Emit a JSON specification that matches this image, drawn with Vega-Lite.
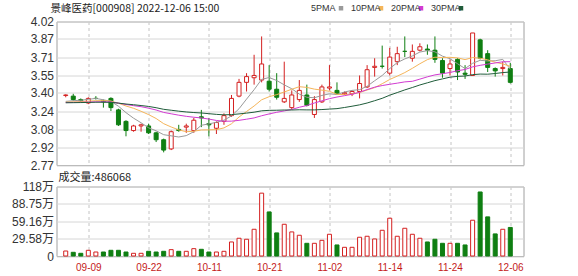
{
  "$schema": "https://vega.github.io/schema/vega-lite/v6.json",
  "autosize": {"type": "none"},
  "padding": {"left": 56.5, "top": 21.5, "right": 521.5, "bottom": 254.5},
  "background": "white",
  "bounds": "flush",
  "spacing": 21,
  "config": {
    "view": {"stroke": "#a0a0a0", "strokeWidth": 1},
    "font": "Liberation Sans"
  },
  "datasets": {
    "k": [
      {"i":0,"d":"09-06","open":3.375,"high":3.385,"low":3.36,"close":3.38,"vol":8.5,"5PMA":3.324,"10PMA":3.317,"20PMA":3.314,"30PMA":3.312},
      {"i":1,"d":"09-07","open":3.37,"high":3.39,"low":3.33,"close":3.34,"vol":6.3,"5PMA":3.330,"10PMA":3.320,"20PMA":3.315,"30PMA":3.313},
      {"i":2,"d":"09-08","open":3.34,"high":3.35,"low":3.32,"close":3.33,"vol":4.6,"5PMA":3.334,"10PMA":3.322,"20PMA":3.316,"30PMA":3.314},
      {"i":3,"d":"09-09","open":3.31,"high":3.36,"low":3.30,"close":3.35,"vol":9.7,"5PMA":3.342,"10PMA":3.326,"20PMA":3.318,"30PMA":3.315},
      {"i":4,"d":"09-13","open":3.35,"high":3.37,"low":3.34,"close":3.35,"vol":6.8,"5PMA":3.350,"10PMA":3.330,"20PMA":3.320,"30PMA":3.317},
      {"i":5,"d":"09-14","open":3.33,"high":3.34,"low":3.27,"close":3.32,"vol":6.8,"5PMA":3.338,"10PMA":3.331,"20PMA":3.321,"30PMA":3.317},
      {"i":6,"d":"09-15","open":3.35,"high":3.36,"low":3.24,"close":3.27,"vol":9.7,"5PMA":3.324,"10PMA":3.327,"20PMA":3.319,"30PMA":3.316},
      {"i":7,"d":"09-16","open":3.25,"high":3.26,"low":3.11,"close":3.12,"vol":9.7,"5PMA":3.282,"10PMA":3.308,"20PMA":3.309,"30PMA":3.309},
      {"i":8,"d":"09-19","open":3.15,"high":3.16,"low":3.02,"close":3.07,"vol":6.8,"5PMA":3.226,"10PMA":3.284,"20PMA":3.297,"30PMA":3.301},
      {"i":9,"d":"09-20","open":3.07,"high":3.12,"low":3.06,"close":3.11,"vol":4.6,"5PMA":3.178,"10PMA":3.264,"20PMA":3.287,"30PMA":3.295},
      {"i":10,"d":"09-21","open":3.11,"high":3.13,"low":3.06,"close":3.12,"vol":4.6,"5PMA":3.138,"10PMA":3.238,"20PMA":3.278,"30PMA":3.288},
      {"i":11,"d":"09-22","open":3.11,"high":3.13,"low":3.04,"close":3.05,"vol":8.0,"5PMA":3.094,"10PMA":3.209,"20PMA":3.265,"30PMA":3.280},
      {"i":12,"d":"09-23","open":3.05,"high":3.06,"low":2.97,"close":2.99,"vol":6.8,"5PMA":3.068,"10PMA":3.175,"20PMA":3.249,"30PMA":3.269},
      {"i":13,"d":"09-26","open":2.99,"high":3.00,"low":2.88,"close":2.90,"vol":8.0,"5PMA":3.034,"10PMA":3.130,"20PMA":3.228,"30PMA":3.255},
      {"i":14,"d":"09-27","open":2.91,"high":3.07,"low":2.90,"close":3.06,"vol":10.8,"5PMA":3.024,"10PMA":3.101,"20PMA":3.216,"30PMA":3.247},
      {"i":15,"d":"09-28","open":3.08,"high":3.12,"low":3.06,"close":3.07,"vol":8.0,"5PMA":3.014,"10PMA":3.076,"20PMA":3.204,"30PMA":3.239},
      {"i":16,"d":"09-29","open":3.10,"high":3.13,"low":3.05,"close":3.11,"vol":8.0,"5PMA":3.026,"10PMA":3.060,"20PMA":3.194,"30PMA":3.232},
      {"i":17,"d":"09-30","open":3.07,"high":3.18,"low":3.05,"close":3.16,"vol":12.5,"5PMA":3.060,"10PMA":3.064,"20PMA":3.186,"30PMA":3.227},
      {"i":18,"d":"10-10","open":3.19,"high":3.25,"low":3.10,"close":3.18,"vol":11.4,"5PMA":3.116,"10PMA":3.075,"20PMA":3.180,"30PMA":3.223},
      {"i":19,"d":"10-11","open":3.13,"high":3.18,"low":3.02,"close":3.12,"vol":6.8,"5PMA":3.128,"10PMA":3.076,"20PMA":3.170,"30PMA":3.217},
      {"i":20,"d":"10-12","open":3.09,"high":3.15,"low":3.04,"close":3.14,"vol":6.8,"5PMA":3.142,"10PMA":3.078,"20PMA":3.158,"30PMA":3.211},
      {"i":21,"d":"10-13","open":3.15,"high":3.22,"low":3.12,"close":3.20,"vol":8.0,"5PMA":3.160,"10PMA":3.093,"20PMA":3.151,"30PMA":3.207},
      {"i":22,"d":"10-14","open":3.20,"high":3.38,"low":3.19,"close":3.35,"vol":23.9,"5PMA":3.198,"10PMA":3.129,"20PMA":3.152,"30PMA":3.209},
      {"i":23,"d":"10-17","open":3.37,"high":3.52,"low":3.36,"close":3.49,"vol":30.2,"5PMA":3.260,"10PMA":3.188,"20PMA":3.159,"30PMA":3.215},
      {"i":24,"d":"10-18","open":3.49,"high":3.57,"low":3.41,"close":3.54,"vol":28.5,"5PMA":3.344,"10PMA":3.236,"20PMA":3.169,"30PMA":3.222},
      {"i":25,"d":"10-19","open":3.53,"high":3.73,"low":3.47,"close":3.55,"vol":45.5,"5PMA":3.426,"10PMA":3.284,"20PMA":3.180,"30PMA":3.230},
      {"i":26,"d":"10-20","open":3.51,"high":3.89,"low":3.49,"close":3.65,"vol":107,"5PMA":3.516,"10PMA":3.338,"20PMA":3.199,"30PMA":3.242},
      {"i":27,"d":"10-21","open":3.50,"high":3.64,"low":3.41,"close":3.43,"vol":75,"5PMA":3.532,"10PMA":3.365,"20PMA":3.215,"30PMA":3.246},
      {"i":28,"d":"10-24","open":3.43,"high":3.57,"low":3.34,"close":3.36,"vol":39.3,"5PMA":3.506,"10PMA":3.383,"20PMA":3.229,"30PMA":3.247},
      {"i":29,"d":"10-25","open":3.32,"high":3.67,"low":3.31,"close":3.35,"vol":54,"5PMA":3.468,"10PMA":3.406,"20PMA":3.241,"30PMA":3.249},
      {"i":30,"d":"10-26","open":3.27,"high":3.42,"low":3.25,"close":3.38,"vol":41,"5PMA":3.434,"10PMA":3.430,"20PMA":3.254,"30PMA":3.249},
      {"i":31,"d":"10-27","open":3.34,"high":3.51,"low":3.32,"close":3.42,"vol":35.3,"5PMA":3.388,"10PMA":3.452,"20PMA":3.273,"30PMA":3.251},
      {"i":32,"d":"10-28","open":3.38,"high":3.47,"low":3.28,"close":3.29,"vol":21.6,"5PMA":3.360,"10PMA":3.446,"20PMA":3.288,"30PMA":3.250},
      {"i":33,"d":"10-31","open":3.21,"high":3.37,"low":3.18,"close":3.34,"vol":21.6,"5PMA":3.356,"10PMA":3.431,"20PMA":3.310,"30PMA":3.250},
      {"i":34,"d":"11-01","open":3.32,"high":3.47,"low":3.31,"close":3.45,"vol":26.7,"5PMA":3.376,"10PMA":3.422,"20PMA":3.329,"30PMA":3.253},
      {"i":35,"d":"11-02","open":3.44,"high":3.64,"low":3.42,"close":3.45,"vol":37,"5PMA":3.390,"10PMA":3.412,"20PMA":3.348,"30PMA":3.257},
      {"i":36,"d":"11-03","open":3.42,"high":3.49,"low":3.38,"close":3.39,"vol":18.8,"5PMA":3.384,"10PMA":3.386,"20PMA":3.362,"30PMA":3.261},
      {"i":37,"d":"11-04","open":3.39,"high":3.41,"low":3.38,"close":3.40,"vol":14.8,"5PMA":3.406,"10PMA":3.383,"20PMA":3.374,"30PMA":3.271},
      {"i":38,"d":"11-07","open":3.39,"high":3.42,"low":3.37,"close":3.41,"vol":14.8,"5PMA":3.420,"10PMA":3.388,"20PMA":3.386,"30PMA":3.282},
      {"i":39,"d":"11-08","open":3.41,"high":3.55,"low":3.35,"close":3.48,"vol":31.9,"5PMA":3.426,"10PMA":3.401,"20PMA":3.404,"30PMA":3.294},
      {"i":40,"d":"11-09","open":3.45,"high":3.64,"low":3.44,"close":3.60,"vol":33.6,"5PMA":3.456,"10PMA":3.423,"20PMA":3.427,"30PMA":3.310},
      {"i":41,"d":"11-10","open":3.62,"high":3.70,"low":3.54,"close":3.63,"vol":29,"5PMA":3.504,"10PMA":3.444,"20PMA":3.448,"30PMA":3.330},
      {"i":42,"d":"11-11","open":3.63,"high":3.81,"low":3.61,"close":3.63,"vol":43.8,"5PMA":3.550,"10PMA":3.478,"20PMA":3.462,"30PMA":3.351},
      {"i":43,"d":"11-14","open":3.57,"high":3.79,"low":3.55,"close":3.71,"vol":64.3,"5PMA":3.610,"10PMA":3.515,"20PMA":3.473,"30PMA":3.378},
      {"i":44,"d":"11-15","open":3.67,"high":3.80,"low":3.64,"close":3.74,"vol":33.6,"5PMA":3.662,"10PMA":3.544,"20PMA":3.483,"30PMA":3.401},
      {"i":45,"d":"11-16","open":3.76,"high":3.89,"low":3.71,"close":3.76,"vol":47.2,"5PMA":3.694,"10PMA":3.575,"20PMA":3.494,"30PMA":3.424},
      {"i":46,"d":"11-17","open":3.70,"high":3.82,"low":3.67,"close":3.76,"vol":37,"5PMA":3.720,"10PMA":3.612,"20PMA":3.499,"30PMA":3.445},
      {"i":47,"d":"11-18","open":3.77,"high":3.83,"low":3.76,"close":3.80,"vol":30.2,"5PMA":3.754,"10PMA":3.652,"20PMA":3.518,"30PMA":3.467},
      {"i":48,"d":"11-21","open":3.78,"high":3.82,"low":3.73,"close":3.77,"vol":23.9,"5PMA":3.766,"10PMA":3.688,"20PMA":3.538,"30PMA":3.486},
      {"i":49,"d":"11-22","open":3.77,"high":3.89,"low":3.66,"close":3.69,"vol":28.5,"5PMA":3.756,"10PMA":3.709,"20PMA":3.555,"30PMA":3.505},
      {"i":50,"d":"11-23","open":3.68,"high":3.70,"low":3.53,"close":3.57,"vol":21.6,"5PMA":3.718,"10PMA":3.706,"20PMA":3.565,"30PMA":3.520},
      {"i":51,"d":"11-24","open":3.61,"high":3.69,"low":3.55,"close":3.65,"vol":21.6,"5PMA":3.696,"10PMA":3.708,"20PMA":3.576,"30PMA":3.535},
      {"i":52,"d":"11-25","open":3.69,"high":3.70,"low":3.51,"close":3.58,"vol":21.6,"5PMA":3.652,"10PMA":3.703,"20PMA":3.591,"30PMA":3.542},
      {"i":53,"d":"11-28","open":3.57,"high":3.64,"low":3.52,"close":3.56,"vol":18.8,"5PMA":3.610,"10PMA":3.688,"20PMA":3.602,"30PMA":3.545},
      {"i":54,"d":"11-29","open":3.55,"high":3.92,"low":3.55,"close":3.92,"vol":60.9,"5PMA":3.656,"10PMA":3.706,"20PMA":3.625,"30PMA":3.557},
      {"i":55,"d":"11-30","open":3.86,"high":3.87,"low":3.69,"close":3.70,"vol":109,"5PMA":3.682,"10PMA":3.700,"20PMA":3.638,"30PMA":3.562},
      {"i":56,"d":"12-01","open":3.74,"high":3.77,"low":3.58,"close":3.62,"vol":66.6,"5PMA":3.676,"10PMA":3.686,"20PMA":3.649,"30PMA":3.561},
      {"i":57,"d":"12-02","open":3.61,"high":3.62,"low":3.54,"close":3.59,"vol":37.6,"5PMA":3.678,"10PMA":3.665,"20PMA":3.659,"30PMA":3.567},
      {"i":58,"d":"12-05","open":3.61,"high":3.67,"low":3.55,"close":3.62,"vol":45.5,"5PMA":3.690,"10PMA":3.650,"20PMA":3.669,"30PMA":3.575},
      {"i":59,"d":"12-06","open":3.61,"high":3.66,"low":3.48,"close":3.49,"vol":48.6068,"5PMA":3.604,"10PMA":3.630,"20PMA":3.670,"30PMA":3.580}
    ]
  },
  "vconcat": [
    {
      "width": 467,
      "height": 143.5,
      "title": {"text": "景峰医药[000908] 2022-12-06 15:00", "anchor": "start", "frame": "group", "dx": -6, "offset": 1.5, "font": "Noto Sans CJK SC", "fontSize": 10.5, "fontWeight": "normal", "color": "#222222"},
      "data": {"name": "k"},
      "encoding": {
        "x": {
          "field": "i", "type": "quantitative",
          "scale": {"domain": [-0.56, 60.09], "nice": false, "zero": false},
          "axis": {"values": [3, 11, 19, 27, 35, 43, 51, 59], "tickCount": 8, "labels": false, "ticks": false, "domain": false, "title": null, "grid": true, "gridDash": [3, 3], "gridColor": "#c4c4c4"}
        }
      },
      "layer": [
        {
          "mark": {"type": "rule", "strokeWidth": 1},
          "encoding": {
            "y": {
              "field": "low", "type": "quantitative",
              "scale": {"domain": [2.77, 4.02], "nice": false, "zero": false},
              "axis": {"values": [2.77, 2.92, 3.08, 3.24, 3.40, 3.55, 3.71, 3.87, 4.02], "tickCount": 9, "format": ".2f", "title": null, "domain": false, "ticks": false, "labelPadding": 3, "labelFontSize": 12, "labelFont": "Liberation Sans", "labelColor": "#333333", "grid": true, "gridColor": "#d6d6d6", "labelOverlap": false, "labelFlush": false}
            },
            "y2": {"field": "high"},
            "stroke": {"condition": {"test": "datum.close > datum.open", "value": "#d42020"}, "value": "#0f7f12"}
          }
        },
        {
          "mark": {"type": "bar", "size": 4, "strokeWidth": 1, "orient": "vertical"},
          "encoding": {
            "y": {
              "field": "open", "type": "quantitative",
              "scale": {"domain": [2.77, 4.02], "nice": false, "zero": false},
              "axis": {"values": [2.77, 2.92, 3.08, 3.24, 3.40, 3.55, 3.71, 3.87, 4.02], "tickCount": 9, "format": ".2f", "title": null, "domain": false, "ticks": false, "labelPadding": 3, "labelFontSize": 12, "labelFont": "Liberation Sans", "labelColor": "#333333", "grid": true, "gridColor": "#d6d6d6", "labelOverlap": false, "labelFlush": false}
            },
            "y2": {"field": "close"},
            "fill": {"condition": {"test": "datum.close > datum.open", "value": "#ffffff"}, "value": "#0f7f12"},
            "stroke": {"condition": {"test": "datum.close > datum.open", "value": "#d42020"}, "value": "#0f7f12"}
          }
        },
        {
          "transform": [{"fold": ["5PMA", "10PMA", "20PMA", "30PMA"], "as": ["ma", "v"]}],
          "mark": {"type": "line", "strokeWidth": 1},
          "encoding": {
            "y": {
              "field": "v", "type": "quantitative",
              "scale": {"domain": [2.77, 4.02], "nice": false, "zero": false},
              "axis": {"values": [2.77, 2.92, 3.08, 3.24, 3.40, 3.55, 3.71, 3.87, 4.02], "tickCount": 9, "format": ".2f", "title": null, "domain": false, "ticks": false, "labelPadding": 3, "labelFontSize": 12, "labelFont": "Liberation Sans", "labelColor": "#333333", "grid": true, "gridColor": "#d6d6d6", "labelOverlap": false, "labelFlush": false}
            },
            "color": {
              "field": "ma", "type": "nominal",
              "scale": {"domain": ["5PMA", "10PMA", "20PMA", "30PMA"], "range": ["#9a9a9a", "#f5b55a", "#d23bd2", "#1f5c3a"]},
              "legend": {
                "orient": "none", "legendX": 250, "legendY": -18, "direction": "horizontal", "title": null,
                "symbolType": "square", "symbolSize": 20, "symbolStrokeWidth": 0,
                "labelFontSize": 9, "labelFont": "Liberation Sans", "labelColor": "#333333",
                "labelOffset": -34.5, "symbolOffset": 30, "columnPadding": 3,
                "encode": {"symbols": {"update": {"fill": {"scale": "color", "field": "value"}, "stroke": {"value": "transparent"}}}}
              }
            }
          }
        }
      ]
    },
    {
      "width": 467,
      "height": 69.5,
      "title": {"text": "成交量:486068", "anchor": "start", "frame": "group", "dx": 2, "offset": -2, "font": "Noto Sans CJK SC", "fontSize": 11, "fontWeight": "normal", "color": "#222222"},
      "data": {"name": "k"},
      "mark": {"type": "bar", "size": 4, "strokeWidth": 1, "orient": "vertical"},
      "encoding": {
        "x": {
          "field": "i", "type": "quantitative",
          "scale": {"domain": [-0.56, 60.09], "nice": false, "zero": false},
          "axis": {"values": [3, 11, 19, 27, 35, 43, 51, 59], "tickCount": 8, "labelExpr": "datum.value==3?'09-09':datum.value==11?'09-22':datum.value==19?'10-11':datum.value==27?'10-21':datum.value==35?'11-02':datum.value==43?'11-14':datum.value==51?'11-24':'12-06'", "title": null, "ticks": false, "domain": false, "grid": true, "gridDash": [3, 3], "gridColor": "#c4c4c4", "labelColor": "#c41a1a", "labelFontSize": 10, "labelFont": "Liberation Sans", "labelPadding": 6, "labelFlush": false, "labelOverlap": false}
        },
        "y": {
          "field": "vol", "type": "quantitative",
          "scale": {"domain": [0, 118.32], "nice": false},
          "axis": {"values": [0, 29.58, 59.16, 88.75, 118.32], "tickCount": 5, "labelExpr": "datum.value==0?'0':datum.value>118?'118万':datum.value+'万'", "title": null, "domain": false, "ticks": false, "labelPadding": 3, "labelFontSize": 12, "labelFont": "Liberation Sans, Noto Sans CJK SC", "labelColor": "#333333", "grid": true, "gridColor": "#d6d6d6", "labelOverlap": false, "labelFlush": false}
        },
        "fill": {"condition": {"test": "datum.close >= datum.open", "value": "#ffffff"}, "value": "#0f7f12"},
        "stroke": {"condition": {"test": "datum.close >= datum.open", "value": "#d42020"}, "value": "#0f7f12"}
      }
    }
  ]
}
